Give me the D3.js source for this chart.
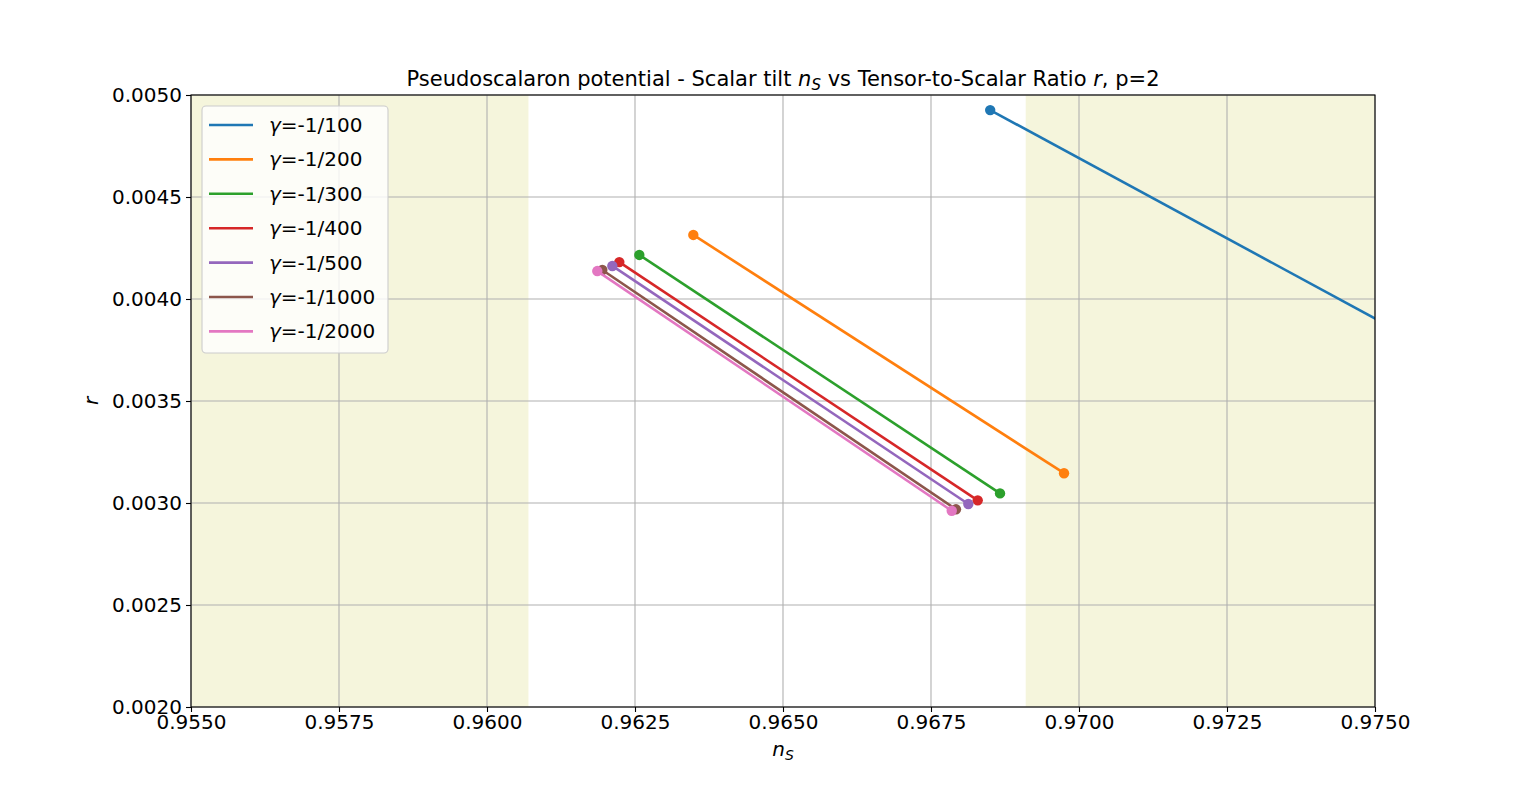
<!DOCTYPE html>
<html>
<head>
<meta charset="utf-8">
<script src="https://cdn.jsdelivr.net/npm/d3@7"></script>
<style>
  html, body { margin: 0; padding: 0; background: #ffffff; }
  svg { display: block; }
  text { font-family: "DejaVu Sans", sans-serif; fill: #000; }
</style>
</head>
<body>
<svg id="chart" width="1528" height="794"></svg>
<script>
// ---------------- data ----------------
const seriesGamma = ["-1/100", "-1/200", "-1/300", "-1/400", "-1/500", "-1/1000", "-1/2000"];
const nsStart = [0.96850, 0.963485, 0.962573, 0.962235, 0.962117, 0.961948, 0.961863];
const rStart  = [0.004926, 0.004314, 0.004216, 0.004181, 0.004162, 0.004142, 0.004137];
const nsEnd   = [0.97900, 0.969747, 0.968666, 0.968289, 0.968130, 0.967922, 0.967850];
const rEnd    = [0.003276, 0.003146, 0.003047, 0.003013, 0.002995, 0.002969, 0.002962];
const seriesColors = ["#1f77b4", "#ff7f0e", "#2ca02c", "#d62728", "#9467bd", "#8c564b", "#e377c2"];
const xTicks = [0.955, 0.9575, 0.96, 0.9625, 0.965, 0.9675, 0.97, 0.9725, 0.975];
const yTicks = [0.002, 0.0025, 0.003, 0.0035, 0.004, 0.0045, 0.005];
const excludedBands = [[0.955, 0.9607], [0.9691, 0.975]];
const xDomain = [0.955, 0.975];
const yDomain = [0.002, 0.005];

// ---------------- layout ----------------
const L = 191, R = 1375, T = 95, B = 707;
const svg = d3.select("#chart");
const x = d3.scaleLinear().domain(xDomain).range([L, R]);
const y = d3.scaleLinear().domain(yDomain).range([B, T]);

svg.append("defs").append("clipPath").attr("id", "clip")
  .append("rect").attr("x", L).attr("y", T).attr("width", R - L).attr("height", B - T);

const plot = svg.append("g").attr("clip-path", "url(#clip)");

// shaded bands
plot.selectAll("rect.band").data(excludedBands).enter().append("rect")
  .attr("class", "band")
  .attr("x", d => x(d[0])).attr("width", d => x(d[1]) - x(d[0]))
  .attr("y", T).attr("height", B - T)
  .attr("fill", "#f5f5dc");

// grid
const gridG = svg.append("g");
gridG.selectAll("line.gx").data(xTicks).enter().append("line")
  .attr("x1", d => x(d)).attr("x2", d => x(d)).attr("y1", T).attr("y2", B)
  .attr("stroke", "#b0b0b0").attr("stroke-width", 1.1);
gridG.selectAll("line.gy").data(yTicks).enter().append("line")
  .attr("y1", d => y(d)).attr("y2", d => y(d)).attr("x1", L).attr("x2", R)
  .attr("stroke", "#b0b0b0").attr("stroke-width", 1.1);

// series
const idx = d3.range(seriesGamma.length);
const lineGen = d3.line().x(d => x(d[0])).y(d => y(d[1]));
const seriesG = svg.append("g").attr("clip-path", "url(#clip)");
idx.forEach(i => {
  const pts = [[nsStart[i], rStart[i]], [nsEnd[i], rEnd[i]]];
  seriesG.append("path").datum(pts)
    .attr("d", lineGen).attr("fill", "none")
    .attr("stroke", seriesColors[i]).attr("stroke-width", 2.6);
  seriesG.selectAll(null).data(pts).enter().append("circle")
    .attr("cx", d => x(d[0])).attr("cy", d => y(d[1])).attr("r", 5.2)
    .attr("fill", seriesColors[i]);
});

// axes
const xAxis = d3.axisBottom(x).tickValues(xTicks).tickFormat(d3.format(".4f")).tickSize(5).tickPadding(3);
const yAxis = d3.axisLeft(y).tickValues(yTicks).tickFormat(d3.format(".4f")).tickSize(5).tickPadding(4);
const gx = svg.append("g").attr("transform", `translate(0,${B})`).call(xAxis);
const gy = svg.append("g").attr("transform", `translate(${L},0)`).call(yAxis);
[gx, gy].forEach(g => {
  g.select(".domain").remove();
  g.selectAll(".tick line").attr("stroke", "#000").attr("stroke-width", 1.1);
  g.selectAll(".tick text").attr("font-size", 20).attr("font-family", "DejaVu Sans").attr("fill", "#000");
});

// frame
svg.append("rect").attr("x", L).attr("y", T).attr("width", R - L).attr("height", B - T)
  .attr("fill", "none").attr("stroke", "#000").attr("stroke-width", 1.1);

// title
const title = svg.append("text").attr("x", (L + R) / 2).attr("y", 86)
  .attr("text-anchor", "middle").attr("font-size", 21);
title.append("tspan").text("Pseudoscalaron potential - Scalar tilt ");
title.append("tspan").attr("font-style", "italic").text("n");
title.append("tspan").attr("font-style", "italic").attr("font-size", 15).attr("dy", 4).text("S");
title.append("tspan").attr("dy", -4).text(" vs Tensor-to-Scalar Ratio ");
title.append("tspan").attr("font-style", "italic").text("r");
title.append("tspan").text(", p=2");

// x label
const xl = svg.append("text").attr("x", (L + R) / 2).attr("y", 756)
  .attr("text-anchor", "middle").attr("font-size", 20);
xl.append("tspan").attr("font-style", "italic").text("n");
xl.append("tspan").attr("font-style", "italic").attr("font-size", 14).attr("dy", 4).text("S");

// y label
svg.append("text").attr("transform", `translate(98,${(T + B) / 2}) rotate(-90)`)
  .attr("text-anchor", "middle").attr("font-size", 20).attr("font-style", "italic").text("r");

// legend
const lg = svg.append("g");
lg.append("rect").attr("x", 202).attr("y", 106).attr("width", 186).attr("height", 247)
  .attr("rx", 4).attr("fill", "#ffffff").attr("fill-opacity", 0.8)
  .attr("stroke", "#cccccc").attr("stroke-width", 1.1);
idx.forEach(i => {
  const cy = 125 + i * 34.4;
  lg.append("line").attr("x1", 209).attr("x2", 253).attr("y1", cy).attr("y2", cy)
    .attr("stroke", seriesColors[i]).attr("stroke-width", 2.6);
  const t = lg.append("text").attr("x", 269).attr("y", cy + 7).attr("font-size", 20);
  t.append("tspan").attr("font-style", "italic").text("γ");
  t.append("tspan").text("=" + seriesGamma[i]);
});
</script>
</body>
</html>
